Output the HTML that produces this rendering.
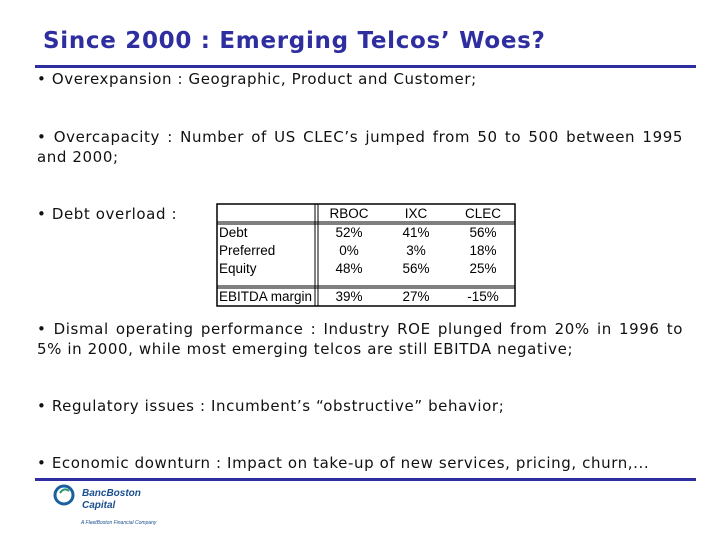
<!DOCTYPE html>
<html><head><meta charset="utf-8"><style>
body{margin:0;width:720px;height:540px;background:#fff;position:relative;overflow:hidden;font-family:"DejaVu Sans","Liberation Sans",sans-serif;}
.abs{position:absolute}
.title{left:43px;top:28px;font-size:23px;font-weight:bold;color:#2e2ea0;white-space:nowrap;letter-spacing:0.7px}
.rule{left:35px;width:661px;height:3px;background:#2e2ea0}
.p{left:37px;width:646px;font-size:15px;color:#111;line-height:19.5px;text-align:justify;text-align-last:left;letter-spacing:0.6px}
</style></head><body>
<div class="abs title">Since 2000 : Emerging Telcos’ Woes?</div>
<div class="abs rule" style="top:65px"></div>
<div class="abs p" style="top:70px">• Overexpansion : Geographic, Product and Customer;</div>
<div class="abs p" style="top:128px">• Overcapacity : Number of US CLEC’s jumped from 50 to 500 between 1995 and 2000;</div>
<div class="abs p" style="top:205px">• Debt overload :</div>
<svg class="abs" style="left:216px;top:203px" width="301" height="105">
<rect x="1" y="1" width="298" height="102" fill="#fff" stroke="#000" stroke-width="1.5"/>
<line x1="99" y1="1" x2="99" y2="103" stroke="#000"/><line x1="102" y1="1" x2="102" y2="103" stroke="#000"/>
<line x1="1" y1="19" x2="299" y2="19" stroke="#000"/><line x1="1" y1="21" x2="299" y2="21" stroke="#000"/>
<line x1="1" y1="83" x2="299" y2="83" stroke="#000"/><line x1="1" y1="85" x2="299" y2="85" stroke="#000"/>
<g font-family="Liberation Sans, sans-serif" font-size="13.5" fill="#000">
<g text-anchor="middle"><text x="133" y="15">RBOC</text><text x="200" y="15">IXC</text><text x="267" y="15">CLEC</text></g>
<text x="3" y="34">Debt</text><text x="3" y="52">Preferred</text><text x="3" y="70">Equity</text><text x="3" y="98">EBITDA margin</text>
<g text-anchor="middle">
<text x="133" y="34">52%</text><text x="200" y="34">41%</text><text x="267" y="34">56%</text>
<text x="133" y="52">0%</text><text x="200" y="52">3%</text><text x="267" y="52">18%</text>
<text x="133" y="70">48%</text><text x="200" y="70">56%</text><text x="267" y="70">25%</text>
<text x="133" y="98">39%</text><text x="200" y="98">27%</text><text x="267" y="98">-15%</text>
</g></g></svg>
<div class="abs p" style="top:320px">• Dismal operating performance : Industry ROE plunged from 20% in 1996 to 5% in 2000, while most emerging telcos are still EBITDA negative;</div>
<div class="abs p" style="top:397px">• Regulatory issues : Incumbent’s “obstructive” behavior;</div>
<div class="abs p" style="top:454px">• Economic downturn : Impact on take-up of new services, pricing, churn,...</div>
<div class="abs rule" style="top:478px"></div>
<svg class="abs" style="left:52px;top:483px" width="130" height="45">
<circle cx="12" cy="12" r="9" fill="none" stroke="#1a5fa0" stroke-width="3"/>
<path d="M8 10 Q12 4 17 8" fill="none" stroke="#2a9a6a" stroke-width="2"/>
<text x="30" y="13" font-family="Liberation Sans, sans-serif" font-style="italic" font-weight="bold" font-size="10" fill="#1a4f90">BancBoston</text>
<text x="30" y="25" font-family="Liberation Sans, sans-serif" font-style="italic" font-weight="bold" font-size="10" fill="#1a4f90">Capital</text>
<text x="29" y="41" font-family="Liberation Sans, sans-serif" font-style="italic" font-size="5" fill="#1a4f90">A FleetBoston Financial Company</text>
</svg>
</body></html>
